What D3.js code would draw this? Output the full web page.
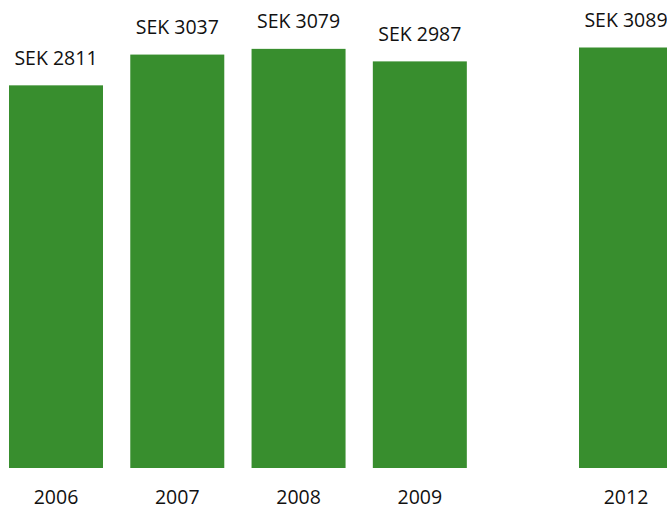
<!DOCTYPE html>
<html><head><meta charset="utf-8">
<script src="https://cdn.jsdelivr.net/npm/d3@7"></script>
<style>html,body{margin:0;padding:0;background:#fff;}svg{display:block;}</style>
</head><body>
<svg id="c" width="667" height="509"></svg>
<script>
const categories = ["2006", "2007", "2008", "2009", "2012"];
const values = [2811, 3037, 3079, 2987, 3089];
const slots = [0, 1, 2, 3, 4.7];
const valueLabels = ["SEK 2811", "SEK 3037", "SEK 3079", "SEK 2987", "SEK 3089"];

const svg = d3.select("#c");
const baseline = 468;
const barW = 94;
const x = d3.scaleLinear().domain([0, 4.7]).range([56, 626]);
const y = d3.scaleLinear().domain([0, 3089]).range([baseline, 47.5]);
const font = "'Open Sans', sans-serif";

const data = categories.map((c, i) => ({c, v: values[i], s: slots[i], l: valueLabels[i]}));

svg.selectAll("rect.bar").data(data).join("rect")
  .attr("class", "bar")
  .attr("x", d => x(d.s) - barW / 2)
  .attr("width", barW)
  .attr("y", d => y(d.v))
  .attr("height", d => baseline - y(d.v))
  .attr("fill", "#388E2E");

svg.selectAll("text.val").data(data).join("text")
  .attr("class", "val")
  .attr("x", d => x(d.s))
  .attr("y", d => y(d.v) - 20.5)
  .attr("text-anchor", "middle")
  .attr("font-family", font)
  .attr("font-size", 19.5)
  .attr("fill", "#111")
  .text(d => d.l);

svg.selectAll("text.cat").data(data).join("text")
  .attr("class", "cat")
  .attr("x", d => x(d.s))
  .attr("y", 504)
  .attr("text-anchor", "middle")
  .attr("font-family", font)
  .attr("font-size", 19.5)
  .attr("fill", "#111")
  .text(d => d.c);
</script>
</body></html>
